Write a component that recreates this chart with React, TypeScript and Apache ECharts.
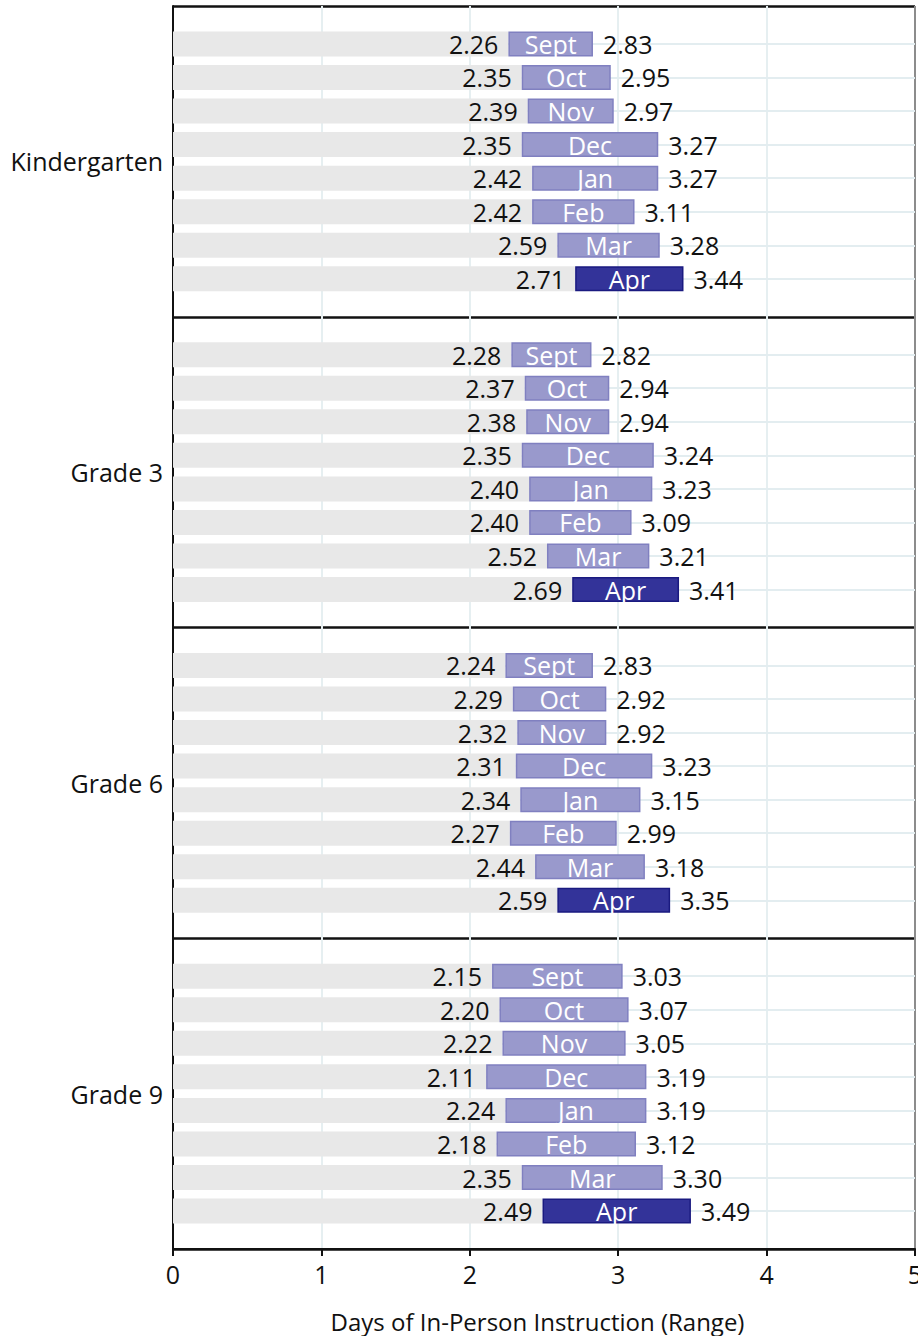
import React, { useEffect, useRef } from "react";
import * as echarts from "echarts";

const groups = ["Kindergarten", "Grade 3", "Grade 6", "Grade 9"];
const months = ["Sept", "Oct", "Nov", "Dec", "Jan", "Feb", "Mar", "Apr"];
const xTicks = [0, 1, 2, 3, 4, 5];

const kLow = [2.26, 2.35, 2.39, 2.35, 2.42, 2.42, 2.59, 2.71];
const kHigh = [2.83, 2.95, 2.97, 3.27, 3.27, 3.11, 3.28, 3.44];
const g3Low = [2.28, 2.37, 2.38, 2.35, 2.4, 2.4, 2.52, 2.69];
const g3High = [2.82, 2.94, 2.94, 3.24, 3.23, 3.09, 3.21, 3.41];
const g6Low = [2.24, 2.29, 2.32, 2.31, 2.34, 2.27, 2.44, 2.59];
const g6High = [2.83, 2.92, 2.92, 3.23, 3.15, 2.99, 3.18, 3.35];
const g9Low = [2.15, 2.2, 2.22, 2.11, 2.24, 2.18, 2.35, 2.49];
const g9High = [3.03, 3.07, 3.05, 3.19, 3.19, 3.12, 3.3, 3.49];

const lows = [kLow, g3Low, g6Low, g9Low];
const highs = [kHigh, g3High, g6High, g9High];

const FONT = "Open Sans";
const FS = 25;

export default function App() {
  const ref = useRef<HTMLDivElement>(null);
  useEffect(() => {
    document.body.style.margin = "0";
    const chart = echarts.init(ref.current!, null, { renderer: "svg" });
    const top = 6;
    const bottom = 1249;
    const left = 173;
    const right = 915;
    const G = (bottom - top) / 4;
    const R = 33.57;
    const innerH = R * 8;
    const pad = (G - innerH) / 2;

    const grids: any[] = [
      { left, top, width: right - left, height: bottom - top, containLabel: false, outerBoundsMode: "none" },
    ];
    const xAxes: any[] = [
      {
        gridIndex: 0,
        type: "value",
        min: 0,
        max: 5,
        interval: 1,
        axisLine: { show: true, lineStyle: { color: "#111", width: 2 } },
        axisTick: { show: true, length: 7, lineStyle: { color: "#111", width: 2 } },
        axisLabel: { color: "#111", fontSize: FS, fontFamily: FONT, margin: 12, formatter: (v: number) => String(v) },
        splitLine: {
          show: true,
          lineStyle: {
            color: xTicks.map((t) => (t === 5 ? "#8c8c8c" : "#e6eff1")),
            width: 2,
          },
        },
        name: "Days of In-Person Instruction (Range)",
        nameLocation: "middle",
        nameGap: 60,
        nameTextStyle: { color: "#111", fontSize: 24, fontFamily: FONT, padding: [0, 13, 0, 0] },
      },
    ];
    const yAxes: any[] = [
      {
        gridIndex: 0,
        type: "category",
        data: groups,
        inverse: true,
        axisLine: { show: true, lineStyle: { color: "#111", width: 2 } },
        axisTick: { show: false },
        axisLabel: { color: "#111", fontSize: FS, fontFamily: FONT, margin: 10 },
        splitLine: { show: true, lineStyle: { color: "#111", width: 2.5 } },
      },
    ];
    const series: any[] = [];

    groups.forEach((g, i) => {
      const gi = i + 1;
      grids.push({ left, width: right - left, top: top + i * G + pad, height: innerH, outerBoundsMode: "none" });
      xAxes.push({ gridIndex: gi, type: "value", min: 0, max: 5, show: false, splitLine: { show: false } });
      yAxes.push({ gridIndex: gi, type: "category", data: months, inverse: true, show: false, splitLine: { show: false } });
      const low = lows[i];
      const high = highs[i];
      series.push({
        type: "bar",
        name: g + " base",
        xAxisIndex: gi,
        yAxisIndex: gi,
        stack: "s" + i,
        barWidth: 25,
        data: low,
        itemStyle: { color: "#e8e8e8" },
        label: {
          show: true,
          position: "insideRight",
          distance: 10,
          color: "#111",
          fontSize: FS,
          fontFamily: FONT,
          formatter: (p: any) => Number(p.value).toFixed(2),
        },
        markLine: {
          silent: true,
          symbol: "none",
          z: 1,
          label: { show: false },
          lineStyle: { color: "#e3edf0", width: 2, type: "solid" },
          data: months.map((m) => ({ yAxis: m })),
        },
        z: 3,
      });
      series.push({
        type: "bar",
        name: g + " range",
        xAxisIndex: gi,
        yAxisIndex: gi,
        stack: "s" + i,
        barWidth: 25,
        data: months.map((m, j) => ({
          value: +(high[j] - low[j]).toFixed(2),
          itemStyle:
            m === "Apr"
              ? { color: "#333399", borderColor: "#1a1a80", borderWidth: 1.5 }
              : { color: "#9999cc", borderColor: "#8080c0", borderWidth: 1.5 },
        })),
        label: {
          show: true,
          position: "inside",
          color: "#fff",
          fontSize: FS,
          fontFamily: FONT,
          formatter: (p: any) => p.name,
        },
        z: 3,
      });
      series.push({
        type: "scatter",
        name: g + " high",
        xAxisIndex: gi,
        yAxisIndex: gi,
        symbol: "rect",
        symbolSize: 0,
        itemStyle: { color: "#111", opacity: 1 },
        emphasis: { disabled: true },
        data: months.map((m, j) => [high[j], m]),
        label: {
          show: true,
          position: "right",
          distance: 10,
          color: "#111",
          opacity: 1,
          textBorderWidth: 0,
          fontSize: FS,
          fontFamily: FONT,
          formatter: (p: any) => Number(p.value[0]).toFixed(2),
        },
        z: 4,
      });
    });

    chart.setOption({
      animation: false,
      backgroundColor: "#fff",
      textStyle: { fontFamily: FONT },
      grid: grids,
      xAxis: xAxes,
      yAxis: yAxes,
      series,
    });
    return () => chart.dispose();
  }, []);
  return <div ref={ref} style={{ width: 918, height: 1336 }} />;
}
